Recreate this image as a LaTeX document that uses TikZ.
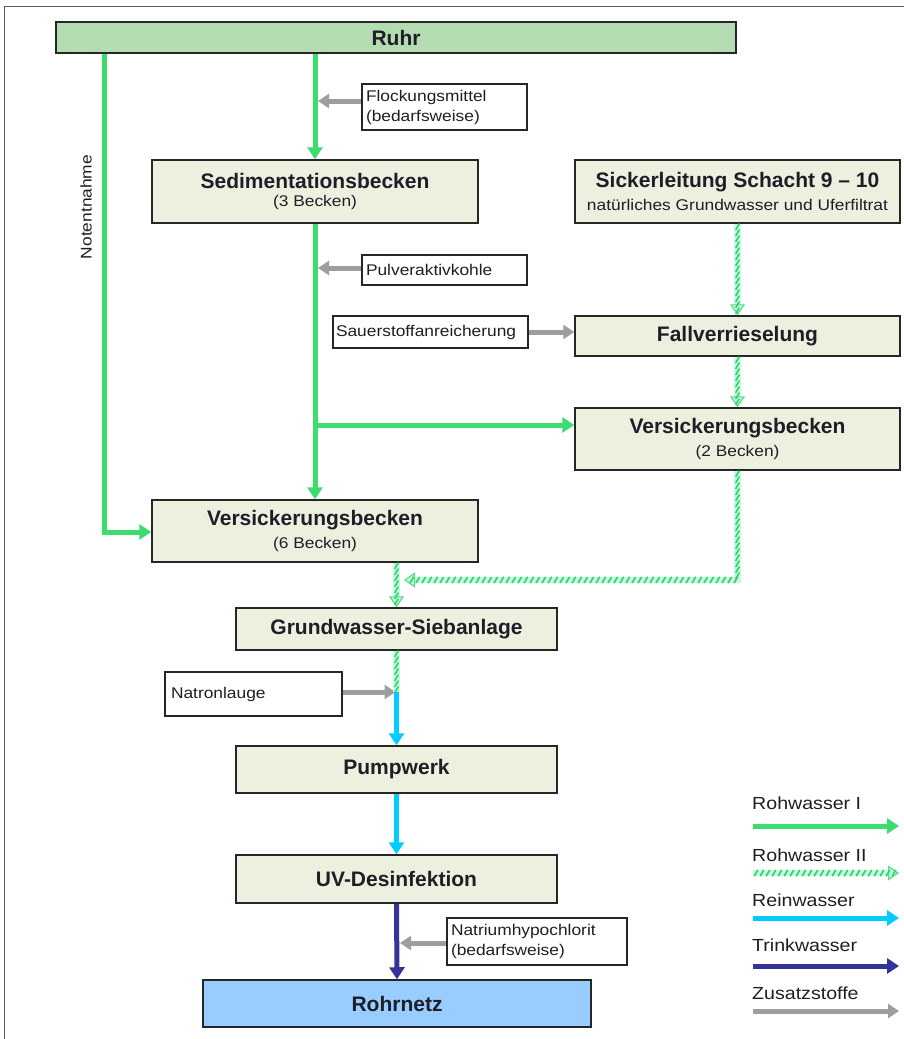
\documentclass[tikz,border=0pt]{standalone}
\usepackage{fontspec}
\setmainfont{Liberation Sans}
\newfontfamily\smallfam[FakeStretch=1.12]{Liberation Sans}
\usetikzlibrary{arrows.meta,decorations.markings}
\definecolor{rwgreen}{RGB}{61,220,110}
\definecolor{rwpale}{RGB}{195,250,230}
\definecolor{rwhatch}{RGB}{50,210,100}
\definecolor{reincol}{RGB}{0,204,255}
\definecolor{trinkcol}{RGB}{51,51,153}
\definecolor{zuscol}{RGB}{158,158,158}
\definecolor{boxfill}{RGB}{236,240,222}
\definecolor{ruhrfill}{RGB}{180,220,178}
\definecolor{rohrfill}{RGB}{153,204,255}
\definecolor{txtcol}{RGB}{30,30,40}
\definecolor{framecol}{RGB}{90,90,90}
\newcommand{\titlefont}{\bfseries\fontsize{21}{23}\selectfont}
\newcommand{\subfont}{\smallfam\fontsize{15.5}{18}\selectfont}
\newcommand{\legfont}{\smallfam\fontsize{17.5}{20}\selectfont}
\tikzset{
  procbox/.style={draw=black!85, line width=1.5pt, fill=boxfill, inner sep=0pt, text=txtcol, align=center},
  addbox/.style={draw=black!85, line width=1.2pt, fill=white, inner xsep=0pt, inner ysep=0pt, text=txtcol, align=left, font=\subfont},
  rwone/.style={draw=rwgreen, line width=5pt, -{Triangle[width=15pt,length=12pt]}},
  reinline/.style={draw=reincol, line width=5pt, -{Triangle[width=15pt,length=12pt]}},
  trinkline/.style={draw=trinkcol, line width=5pt, -{Triangle[width=15pt,length=12pt]}},
  zusline/.style={draw=zuscol, line width=5pt, -{Triangle[width=14pt,length=11pt]}},
  rwtwo/.style={draw=rwpale, line width=6.5pt,
    postaction={decorate},
    decoration={markings, mark=between positions 3pt and -2pt step 6pt with {\pgftransformresetnontranslations
      \draw[arrows=-, rwhatch, line width=1.6pt, line cap=round] (-1.6pt,-2.8pt) -- (1.6pt,2.8pt);}}},
  rwtwotip/.style={rwtwo, -{Triangle[width=15pt,length=11pt,fill=rwpale,color=rwhatch!80,line width=1.2pt]}},
}
\begin{document}
\begin{tikzpicture}[x=1pt,y=-1pt]
\useasboundingbox (0,0) rectangle (904,1039);
\fill[white] (0,0) rectangle (904,1039);
\draw[framecol, line width=1pt] (4,1039) -- (4,6) -- (904,6);

% process boxes
\node[procbox, fill=ruhrfill, minimum width=680pt, minimum height=31pt, font=\titlefont] (ruhr) at (396,37.5) {Ruhr};
\node[procbox, minimum width=326pt, minimum height=63pt] (sed) at (315,191.5) {{\titlefont Sedimentationsbecken}\\[6pt]{\subfont (3 Becken)}};
\node[procbox, minimum width=325pt, minimum height=63pt] (sick) at (737.5,191.5) {{\titlefont Sickerleitung Schacht 9 -- 10}\\[6pt]{\subfont natürliches Grundwasser und Uferfiltrat}};
\node[procbox, minimum width=325pt, minimum height=40pt, font=\titlefont] (fall) at (737.5,336) {Fallverrieselung};
\node[procbox, minimum width=325pt, minimum height=62pt] (vbz) at (737.5,439) {{\titlefont Versickerungsbecken}\\[6pt]{\subfont (2 Becken)}};
\node[procbox, minimum width=326pt, minimum height=62pt] (vbs) at (315,531) {{\titlefont Versickerungsbecken}\\[6pt]{\subfont (6 Becken)}};
\node[procbox, minimum width=321pt, minimum height=42pt, font=\titlefont] (sieb) at (396.5,629) {Grundwasser-Siebanlage};
\node[procbox, minimum width=321pt, minimum height=47pt, font=\titlefont] (pump) at (396.5,769.5) {Pumpwerk};
\node[procbox, minimum width=321pt, minimum height=48pt, font=\titlefont] (uv) at (396.5,879) {UV-Desinfektion};
\node[procbox, fill=rohrfill, minimum width=388pt, minimum height=47pt, font=\titlefont] (rohr) at (397,1003.5) {Rohrnetz};

% additive boxes
\node[addbox, text width=157pt, minimum height=46pt, inner xsep=4pt] (flock) at (444.5,107) {Flockungsmittel\\[2pt](bedarfsweise)};
\node[addbox, text width=157pt, minimum height=30pt, inner xsep=4pt] (pulver) at (444.5,270) {Pulveraktivkohle};
\node[addbox, text width=189pt, minimum height=32pt, inner xsep=3pt] (sauer) at (430.5,332) {Sauerstoffanreicherung};
\node[addbox, text width=165pt, minimum height=44pt, inner xsep=6pt] (natron) at (253.5,694) {Natronlauge};
\node[addbox, text width=172pt, minimum height=47pt, inner xsep=4pt] (natrium) at (537,941.5) {Natriumhypochlorit\\[2pt](bedarfsweise)};

\node[rotate=90, text=txtcol, font=\subfont] (noten) at (86,207) {Notentnahme};

% Rohwasser I
\coordinate (nl) at (104,532);
\draw[rwone] (ruhr.south -| nl) -- (nl) -- (nl -| vbs.west);
\draw[rwone] (ruhr.south -| sed.north) -- (sed.north);
\draw[rwone] (sed.south) -- (vbs.north);
\coordinate (jb) at (315,425);
\draw[rwone] (jb) -- (jb -| vbz.west);

% Zusatzstoffe
\draw[zusline] ([yshift=6pt]flock.west) -- ([yshift=6pt,xshift=3pt]flock.west -| sed.north);
\draw[zusline] ([yshift=2pt]pulver.west) -- ([yshift=2pt,xshift=3pt]pulver.west -| sed.north);
\draw[zusline] (sauer.east) -- (sauer.east -| fall.west);
\draw[zusline] ([yshift=2pt]natron.east) -- ([yshift=2pt,xshift=-1pt]natron.east -| sieb.south);
\draw[zusline] ([yshift=-1.5pt]natrium.west) -- ([yshift=-1.5pt,xshift=3pt]natrium.west -| rohr.north);

% Rohwasser II
\draw[rwtwotip] (sick.south) -- (fall.north);
\draw[rwtwotip] (fall.south) -- (vbz.north);
\coordinate (hc) at (404,580);
\draw[rwtwotip] (vbz.south) -- (vbz.south |- hc) -- (hc);
\draw[rwtwotip] (sieb.north |- vbs.south) -- (sieb.north);
\coordinate (jn) at (396.5,692);
\draw[rwtwo] (sieb.south) -- (jn);

% Reinwasser / Trinkwasser
\draw[reinline] (jn) -- (pump.north);
\draw[reinline] (pump.south) -- (uv.north);
\draw[trinkline] (uv.south) -- (rohr.north);

% Legend
\node[anchor=west, text=txtcol, font=\legfont, inner sep=0pt] (l1) at (752,803) {Rohwasser I};
\node[anchor=west, text=txtcol, font=\legfont, inner sep=0pt] (l2) at (752,855) {Rohwasser II};
\node[anchor=west, text=txtcol, font=\legfont, inner sep=0pt] (l3) at (752,900) {Reinwasser};
\node[anchor=west, text=txtcol, font=\legfont, inner sep=0pt] (l4) at (752,945) {Trinkwasser};
\node[anchor=west, text=txtcol, font=\legfont, inner sep=0pt] (l5) at (752,993) {Zusatzstoffe};
\coordinate (a1s) at (753,826); \coordinate (a1e) at (899,826);
\coordinate (a2s) at (753,873); \coordinate (a2e) at (899,873);
\coordinate (a3s) at (753,918); \coordinate (a3e) at (899,918);
\coordinate (a4s) at (753,966); \coordinate (a4e) at (899,966);
\coordinate (a5s) at (753,1011); \coordinate (a5e) at (899,1011);
\draw[rwone] (a1s) -- (a1e);
\draw[rwtwotip] (a2s) -- (a2e);
\draw[reinline] (a3s) -- (a3e);
\draw[trinkline] (a4s) -- (a4e);
\draw[zusline] (a5s) -- (a5e);
\end{tikzpicture}
\end{document}
